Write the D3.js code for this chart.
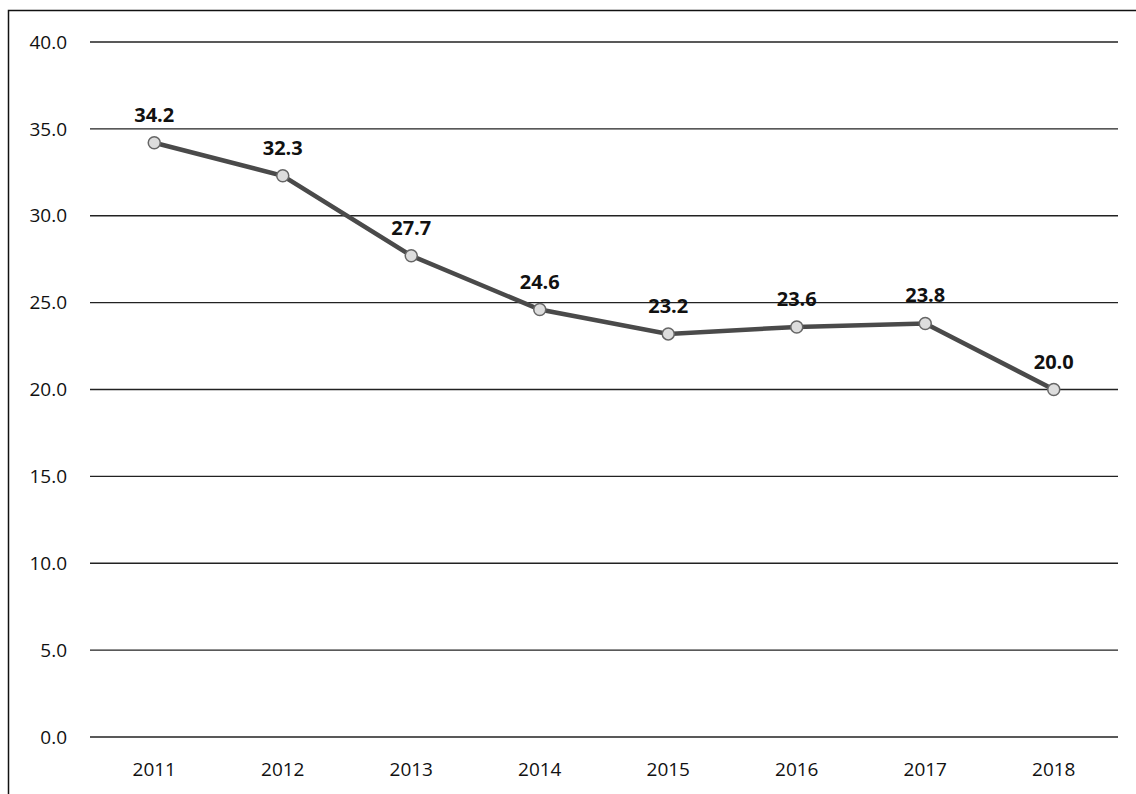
<!DOCTYPE html>
<meta charset="utf-8">
<style>
  body { margin: 0; background: #fff; }
  text { font-family: "Open Sans", "Noto Sans", sans-serif; fill: #111; }
</style>
<div id="chart"></div>
<script src="https://d3js.org/d3.v7.min.js"></script>
<script>
var years  = ["2011", "2012", "2013", "2014", "2015", "2016", "2017", "2018"];
var values = [34.2, 32.3, 27.7, 24.6, 23.2, 23.6, 23.8, 20.0];
var yTicks = [0, 5, 10, 15, 20, 25, 30, 35, 40];

var width = 1136, height = 794;

var svg = d3.select("#chart").append("svg")
  .attr("width", width)
  .attr("height", height);

// frame (right and bottom edges fall outside the picture)
svg.append("rect")
  .attr("x", 8.5).attr("y", 10.5)
  .attr("width", 1140).attr("height", 800)
  .attr("fill", "none").attr("stroke", "#111").attr("stroke-width", 1.5);

var x = d3.scaleBand().domain(years).range([90, 1118]);
var y = d3.scaleLinear().domain([0, 40]).range([737, 42]);

// gridlines
svg.append("g").selectAll("line").data(yTicks).enter().append("line")
  .attr("x1", 90).attr("x2", 1118)
  .attr("y1", function(d) { return y(d); })
  .attr("y2", function(d) { return y(d); })
  .attr("stroke", "#222").attr("stroke-width", 1.3);

// y axis labels
svg.append("g").selectAll("text").data(yTicks).enter().append("text")
  .attr("x", 67)
  .attr("y", function(d) { return y(d); })
  .attr("dy", "0.35em")
  .attr("text-anchor", "end")
  .style("font-size", "19px")
  .text(function(d) { return d.toFixed(1); });

// x axis labels
svg.append("g").selectAll("text").data(years).enter().append("text")
  .attr("x", function(d) { return x(d) + x.bandwidth() / 2; })
  .attr("y", 776)
  .attr("text-anchor", "middle")
  .style("font-size", "19px")
  .text(function(d) { return d; });

var line = d3.line()
  .x(function(d, i) { return x(years[i]) + x.bandwidth() / 2; })
  .y(function(d) { return y(d); });

svg.append("path")
  .datum(values)
  .attr("d", line)
  .attr("fill", "none")
  .attr("stroke", "#4a4a4a")
  .attr("stroke-width", 4.5);

svg.append("g").selectAll("circle").data(values).enter().append("circle")
  .attr("cx", function(d, i) { return x(years[i]) + x.bandwidth() / 2; })
  .attr("cy", function(d) { return y(d); })
  .attr("r", 6)
  .attr("fill", "#ddd")
  .attr("stroke", "#666")
  .attr("stroke-width", 1.5);

// value labels
svg.append("g").selectAll("text").data(values).enter().append("text")
  .attr("x", function(d, i) { return x(years[i]) + x.bandwidth() / 2; })
  .attr("y", function(d) { return y(d) - 21; })
  .attr("text-anchor", "middle")
  .style("font-size", "20px")
  .style("font-weight", "bold")
  .text(function(d) { return d.toFixed(1); });
</script>
